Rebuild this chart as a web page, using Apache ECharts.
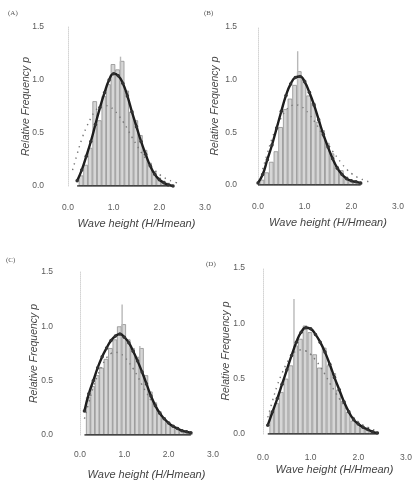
<!DOCTYPE html>
<html>
<head>
<meta charset="utf-8">
<script src="https://cdn.jsdelivr.net/npm/echarts@6/dist/echarts.min.js"></script>
<style>
html, body { margin: 0; background: #fff; }
#main { width: 415px; height: 481px; }
</style>
</head>
<body>
<div id="main"></div>
<script>
// panel labels and axis titles
var panelLabels = ['(A)', '(B)', '(C)', '(D)'];
var xTitle = 'Wave height (H/Hmean)';
var yTitle = 'Relative Frequency p';

// theoretical (dotted) curve, same in every panel
var rayX = [0.1, 0.2, 0.3, 0.4, 0.5, 0.6, 0.7, 0.8, 0.9, 1.0, 1.1, 1.2, 1.3, 1.4, 1.5, 1.6, 1.7, 1.8, 1.9, 2.0, 2.1, 2.2, 2.3, 2.4];
var rayY = [0.15, 0.30, 0.44, 0.55, 0.64, 0.71, 0.75, 0.76, 0.75, 0.72, 0.67, 0.61, 0.54, 0.46, 0.39, 0.32, 0.26, 0.20, 0.15, 0.11, 0.08, 0.06, 0.04, 0.03];

// (A)
var fitA_x = [0.2, 0.3, 0.4, 0.5, 0.6, 0.7, 0.8, 0.9, 1.0, 1.1, 1.2, 1.3, 1.4, 1.5, 1.6, 1.7, 1.8, 1.9, 2.0, 2.1, 2.2, 2.3];
var fitA_y = [0.05, 0.15, 0.28, 0.42, 0.58, 0.74, 0.88, 1.00, 1.06, 1.04, 0.97, 0.85, 0.70, 0.56, 0.42, 0.30, 0.19, 0.11, 0.06, 0.03, 0.01, 0.00];
var barA_x = [0.25, 0.35, 0.45, 0.55, 0.65, 0.75, 0.85, 0.95, 1.05, 1.15, 1.25, 1.35, 1.45, 1.55, 1.65, 1.75, 1.85, 1.95, 2.05, 2.15];
var barA_h = [0.10, 0.20, 0.36, 0.80, 0.62, 0.85, 0.96, 1.15, 1.10, 1.18, 0.90, 0.70, 0.62, 0.48, 0.34, 0.22, 0.14, 0.08, 0.05, 0.03];
var spikeA_x = [1.15];
var spikeA_h = [1.22];

// (B)
var fitB_x = [0.0, 0.1, 0.2, 0.3, 0.4, 0.5, 0.6, 0.7, 0.8, 0.9, 1.0, 1.1, 1.2, 1.3, 1.4, 1.5, 1.6, 1.7, 1.8, 1.9, 2.0, 2.1, 2.2];
var fitB_y = [0.02, 0.10, 0.24, 0.38, 0.54, 0.70, 0.85, 0.96, 1.02, 1.03, 0.98, 0.88, 0.76, 0.62, 0.48, 0.36, 0.25, 0.16, 0.10, 0.06, 0.04, 0.03, 0.02];
var barB_x = [0.05, 0.15, 0.25, 0.35, 0.45, 0.55, 0.65, 0.75, 0.85, 0.95, 1.05, 1.15, 1.25, 1.35, 1.45, 1.55, 1.65, 1.75, 1.85, 1.95, 2.05, 2.15];
var barB_h = [0.05, 0.12, 0.22, 0.32, 0.55, 0.72, 0.82, 0.95, 1.08, 1.00, 0.85, 0.78, 0.60, 0.52, 0.40, 0.30, 0.18, 0.14, 0.08, 0.05, 0.03, 0.02];
var spikeB_x = [0.85];
var spikeB_h = [1.27];

// (C)
var fitC_x = [0.1, 0.2, 0.3, 0.4, 0.5, 0.6, 0.7, 0.8, 0.9, 1.0, 1.1, 1.2, 1.3, 1.4, 1.5, 1.6, 1.7, 1.8, 1.9, 2.0, 2.1, 2.2, 2.3, 2.4, 2.5];
var fitC_y = [0.22, 0.38, 0.50, 0.62, 0.72, 0.80, 0.87, 0.91, 0.93, 0.90, 0.85, 0.77, 0.68, 0.58, 0.47, 0.36, 0.27, 0.20, 0.15, 0.11, 0.08, 0.06, 0.04, 0.03, 0.02];
var barC_x = [0.15, 0.25, 0.35, 0.45, 0.55, 0.65, 0.75, 0.85, 0.95, 1.05, 1.15, 1.25, 1.35, 1.45, 1.55, 1.65, 1.75, 1.85, 1.95, 2.05, 2.15, 2.25, 2.35, 2.45];
var barC_h = [0.35, 0.45, 0.55, 0.62, 0.70, 0.80, 0.88, 1.00, 1.02, 0.88, 0.80, 0.72, 0.80, 0.55, 0.40, 0.30, 0.22, 0.16, 0.12, 0.09, 0.07, 0.05, 0.04, 0.03];
var spikeC_x = [0.95, 1.35];
var spikeC_h = [1.20, 0.82];

// (D)
var fitD_x = [0.1, 0.2, 0.3, 0.4, 0.5, 0.6, 0.7, 0.8, 0.9, 1.0, 1.1, 1.2, 1.3, 1.4, 1.5, 1.6, 1.7, 1.8, 1.9, 2.0, 2.1, 2.2, 2.3, 2.4];
var fitD_y = [0.08, 0.20, 0.32, 0.45, 0.58, 0.71, 0.83, 0.92, 0.96, 0.95, 0.90, 0.83, 0.74, 0.63, 0.51, 0.40, 0.29, 0.20, 0.13, 0.09, 0.06, 0.04, 0.02, 0.01];
var barD_x = [0.15, 0.25, 0.35, 0.45, 0.55, 0.65, 0.75, 0.85, 0.95, 1.05, 1.15, 1.25, 1.35, 1.45, 1.55, 1.65, 1.75, 1.85, 1.95, 2.05, 2.15, 2.25, 2.35];
var barD_h = [0.20, 0.28, 0.38, 0.50, 0.62, 0.80, 0.86, 0.98, 0.92, 0.72, 0.60, 0.78, 0.62, 0.55, 0.40, 0.30, 0.20, 0.12, 0.10, 0.06, 0.04, 0.03, 0.02];
var spikeD_x = [0.65];
var spikeD_h = [1.22];

function zip(xs, ys) {
    var out = [];
    for (var i = 0; i < xs.length; i++) {
        out.push([xs[i], ys[i]]);
    }
    return out;
}

var panels = [
    {fx: fitA_x, fy: fitA_y, bx: barA_x, bh: barA_h, sx: spikeA_x, sh: spikeA_h,
     grid: {left: 68, top: 27, width: 137, height: 159}, xm: 17, xg: 32, ym: 24, yg: 36, lab: [14, 15]},
    {fx: fitB_x, fy: fitB_y, bx: barB_x, bh: barB_h, sx: spikeB_x, sh: spikeB_h,
     grid: {left: 258, top: 27, width: 140, height: 158}, xm: 17, xg: 32, ym: 21, yg: 37, lab: [210, 15]},
    {fx: fitC_x, fy: fitC_y, bx: barC_x, bh: barC_h, sx: spikeC_x, sh: spikeC_h,
     grid: {left: 80, top: 272, width: 133, height: 164}, xm: 15, xg: 34, ym: 27, yg: 40, lab: [12, 262]},
    {fx: fitD_x, fy: fitD_y, bx: barD_x, bh: barD_h, sx: spikeD_x, sh: spikeD_h,
     grid: {left: 263, top: 268, width: 143, height: 166}, xm: 19, xg: 30, ym: 18, yg: 31, lab: [212, 266]}
];

var grids = [], xAxes = [], yAxes = [], series = [], graphics = [];

for (var p = 0; p < panels.length; p++) {
    var pn = panels[p];
    grids.push(pn.grid);
    xAxes.push({
        gridIndex: p, type: 'value', min: 0, max: 3, interval: 1,
        name: xTitle, nameLocation: 'middle', nameGap: pn.xg, nameMoveOverlap: false,
        nameTextStyle: {fontFamily: 'Liberation Sans', fontStyle: 'italic', fontSize: 11, color: '#444'},
        axisLine: {show: false}, axisTick: {show: false}, splitLine: {show: false},
        axisLabel: {margin: pn.xm, fontFamily: 'Liberation Sans', fontSize: 8.5, color: '#5a5a5a',
            formatter: function (v) { return v.toFixed(1); }}
    });
    yAxes.push({
        gridIndex: p, type: 'value', min: 0, max: 1.5, interval: 0.5,
        name: yTitle, nameLocation: 'middle', nameGap: pn.yg, nameMoveOverlap: false,
        nameTextStyle: {fontFamily: 'Liberation Sans', fontStyle: 'italic', fontSize: 10.5, color: '#444'},
        axisLine: {show: true, lineStyle: {color: '#d4d4d4', type: 'dotted', width: 1}},
        axisTick: {show: false}, splitLine: {show: false},
        axisLabel: {margin: pn.ym, fontFamily: 'Liberation Sans', fontSize: 8.5, color: '#5a5a5a',
            formatter: function (v) { return v.toFixed(1); }}
    });

    // histogram bars
    series.push({
        type: 'bar', xAxisIndex: p, yAxisIndex: p, barWidth: 4.6, barGap: '-100%',
        data: zip(pn.bx, pn.bh),
        itemStyle: {color: '#d6d6d6', borderColor: '#8f8f8f', borderWidth: 0.8},
        silent: true, z: 1
    });
    // faint tall bars
    series.push({
        type: 'bar', xAxisIndex: p, yAxisIndex: p, barWidth: 1.4, barGap: '-100%',
        data: zip(pn.sx, pn.sh),
        itemStyle: {color: '#b8b8b8'},
        silent: true, z: 1
    });
    // baseline under the histogram
    var bw = 0.05;
    series.push({
        type: 'line', xAxisIndex: p, yAxisIndex: p, symbol: 'none',
        data: [[pn.bx[0] - bw, 0], [pn.bx[pn.bx.length - 1] + bw, 0]],
        lineStyle: {color: '#222', width: 1.5}, z: 3
    });
    // theoretical dotted curve
    series.push({
        type: 'line', xAxisIndex: p, yAxisIndex: p, symbol: 'none', smooth: true,
        data: zip(rayX, rayY),
        lineStyle: {color: '#777', width: 1.4, type: [1.4, 4.5]}, z: 4
    });
    // fitted curve
    series.push({
        type: 'line', xAxisIndex: p, yAxisIndex: p, smooth: true,
        symbol: 'circle', symbolSize: 3.5,
        data: zip(pn.fx, pn.fy),
        itemStyle: {color: '#333'},
        lineStyle: {color: '#1e1e1e', width: 2.4}, z: 5
    });

    graphics.push({
        type: 'text', left: pn.lab[0] - 6, top: pn.lab[1] - 5,
        style: {text: panelLabels[p], font: '7px "Liberation Serif"', fill: '#555'}
    });
}

var chart = echarts.init(document.getElementById('main'), null, {renderer: 'canvas'});
chart.setOption({
    animation: false,
    backgroundColor: '#fff',
    grid: grids,
    xAxis: xAxes,
    yAxis: yAxes,
    series: series,
    graphic: graphics
});
</script>
</body>
</html>
